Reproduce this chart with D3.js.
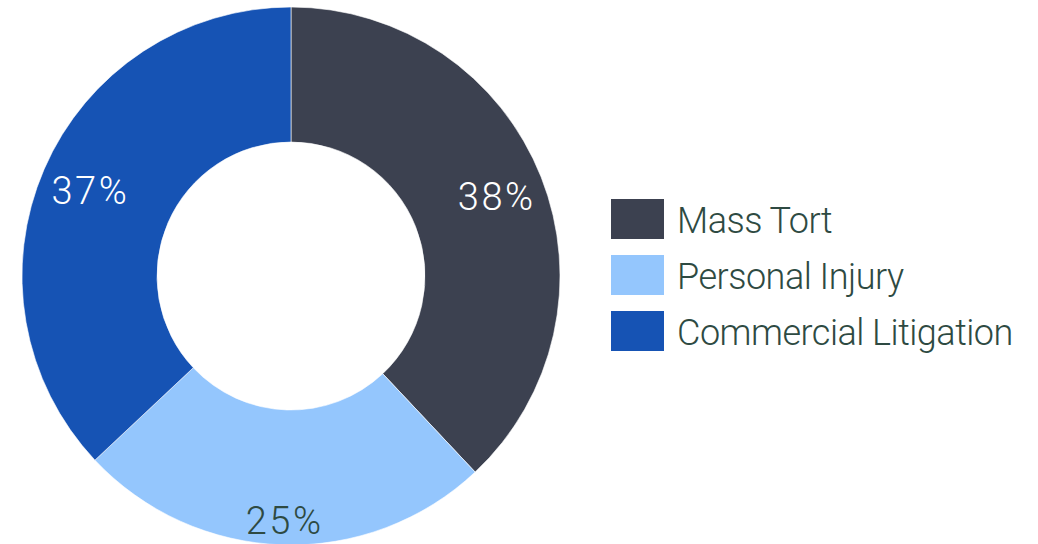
<!DOCTYPE html>
<html>
<head>
<meta charset="utf-8">
<script src="https://cdn.jsdelivr.net/npm/d3@7"></script>
<style>
  html, body { margin: 0; padding: 0; background: #ffffff; }
  svg { display: block; }
  text { font-family: Roboto, "Liberation Sans", sans-serif; font-weight: 300; }
</style>
</head>
<body>
<svg id="chart" width="1038" height="544"></svg>
<script>
const categories = ["Mass Tort", "Personal Injury", "Commercial Litigation"];
const values = [38, 25, 37];
const percentLabels = ["38%", "25%", "37%"];
const colors = ["#3c4150", "#94c6fd", "#1653b4"];
const labelColors = ["#ffffff", "#2e4a42", "#ffffff"];

const W = 1038, H = 544;
const cx = 291, cy = 276;
const outerR = 269, innerR = 134;
const labelFont = 38;
const legendFont = 36;
const labelSpacing = 2.5;
const edgeGap = 8;

const svg = d3.select("#chart");
const data = categories.map((c, i) => ({ name: c, value: values[i], label: percentLabels[i], color: colors[i], labelColor: labelColors[i] }));

const pie = d3.pie().sort(null).value(d => d.value);
const arc = d3.arc().innerRadius(innerR).outerRadius(outerR);
const arcs = pie(data);

const g = svg.append("g").attr("transform", `translate(${cx},${cy})`);

g.selectAll("path.slice")
  .data(arcs)
  .enter()
  .append("path")
  .attr("class", "slice")
  .attr("d", arc)
  .attr("fill", d => d.data.color)
  .attr("stroke", "#ffffff")
  .attr("stroke-width", 0.6);

// labels: along the mid angle, pushed outward until the farthest box corner sits edgeGap inside the outer edge
const capH = labelFont * 0.711;
g.selectAll("text.pct")
  .data(arcs)
  .enter()
  .append("text")
  .attr("class", "pct")
  .attr("text-anchor", "middle")
  .attr("font-size", labelFont)
  .attr("letter-spacing", labelSpacing)
  .attr("fill", d => d.data.labelColor)
  .text(d => d.data.label)
  .each(function(d) {
    const w = this.getComputedTextLength();
    const a = (d.startAngle + d.endAngle) / 2;
    const sx = Math.sin(a), sy = -Math.cos(a);
    const target = outerR - edgeGap;
    let lo = 0, hi = outerR;
    for (let k = 0; k < 60; k++) {
      const r = (lo + hi) / 2;
      const px = r * sx, py = r * sy;
      let m = 0;
      for (const ox of [-w / 2, w / 2]) for (const oy of [-capH / 2, capH / 2]) {
        m = Math.max(m, Math.hypot(px + ox, py + oy));
      }
      if (m > target) hi = r; else lo = r;
    }
    const r = lo;
    d3.select(this)
      .attr("x", r * sx + labelSpacing / 2)
      .attr("y", r * sy + capH / 2 + 1.5);
  });

// legend
const legendX = 611, legendY = 199, swW = 53, swH = 40, step = 56;
const legendCap = legendFont * 0.711;
const legend = svg.append("g");
const items = legend.selectAll("g.item")
  .data(data)
  .enter()
  .append("g")
  .attr("class", "item")
  .attr("transform", (d, i) => `translate(${legendX},${legendY + i * step})`);

items.append("rect")
  .attr("width", swW)
  .attr("height", swH)
  .attr("fill", d => d.color);

items.append("text")
  .attr("x", 66)
  .attr("y", swH / 2 + legendCap / 2 + 1.5)
  .attr("font-size", legendFont)
  .attr("letter-spacing", -0.5)
  .attr("fill", "#2e4a42")
  .text(d => d.name);
</script>
</body>
</html>
